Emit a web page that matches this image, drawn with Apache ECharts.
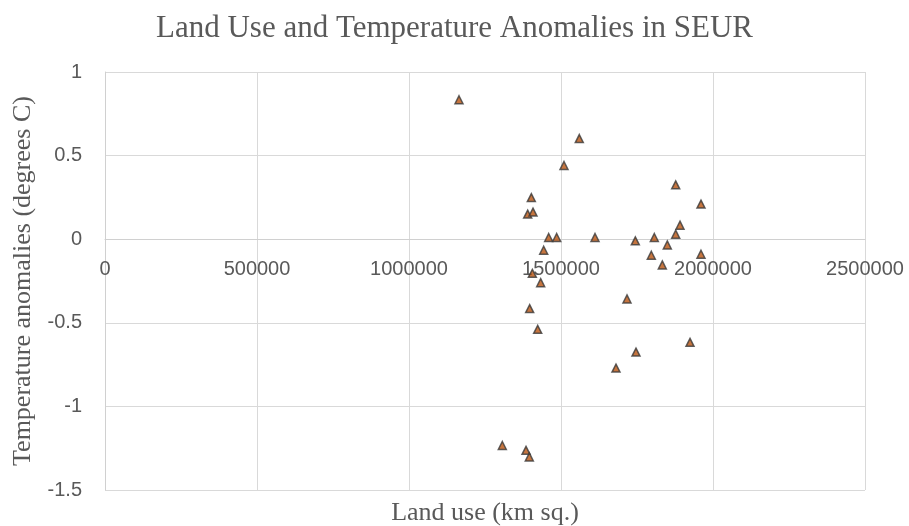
<!DOCTYPE html>
<html><head><meta charset="utf-8">
<script src="https://cdn.jsdelivr.net/npm/echarts@6/dist/echarts.min.js"></script>
<style>html,body{margin:0;padding:0;background:#fff}#c{width:909px;height:526px}</style>
</head><body><div id="c"></div>
<script>
const landUse = [1164500,1560200,1509900,1402400,1390400,1407900,1459500,1485800,1611900,1443100,
  1877300,1960500,1891500,1877300,1807000,1744500,1849700,1797100,1960500,1833300,
  1405700,1433100,1717100,1396900,1423300,1924400,1746700,1680900,1307000,1384900,1395800];
const tempAnomaly = [0.834,0.602,0.441,0.249,0.150,0.162,0.01,0.01,0.01,-0.066,
  0.325,0.21,0.084,0.03,0.01,-0.01,-0.034,-0.096,-0.09,-0.154,
  -0.204,-0.26,-0.357,-0.415,-0.539,-0.617,-0.675,-0.771,-1.234,-1.263,-1.302];
const points = landUse.map((x,i)=>[x,tempAnomaly[i]]);
const chart = echarts.init(document.getElementById('c'), null, {renderer:'canvas'});
const serif = '"Liberation Serif","Times New Roman",serif';
const sans = '"Liberation Sans",Arial,sans-serif';
const gridTop = 72, gridBottom = 36;
chart.setOption({
  animation:false,
  title:{text:'Land Use and Temperature Anomalies in SEUR', left:'center', top:8,
    textStyle:{fontFamily:serif, fontSize:31, fontWeight:'normal', color:'#595959'}},
  grid:{left:105, right:44, top:gridTop, bottom:gridBottom, containLabel:false, outerBoundsMode:'none'},
  xAxis:{type:'value', min:0, max:2500000, interval:500000, position:'bottom', offset:0,
    name:'Land use (km sq.)', nameLocation:'middle', nameGap:12,
    nameTextStyle:{fontFamily:serif, fontSize:26, color:'#595959'},
    axisLine:{show:true, onZero:false, lineStyle:{color:'#d0d0d0', width:1}},
    axisTick:{show:false},
    axisLabel:{margin:20, fontFamily:sans, fontSize:20, color:'#595959', formatter:v=>String(v)},
    splitLine:{show:true, lineStyle:{color:'#d9d9d9', width:1}}},
  yAxis:{type:'value', min:-1.5, max:1, interval:0.5,
    name:'Temperature anomalies (degrees C)', nameLocation:'middle', nameGap:69,
    nameTextStyle:{fontFamily:serif, fontSize:26, color:'#595959'},
    axisLine:{show:true, onZero:false, lineStyle:{color:'#d0d0d0', width:1}},
    axisTick:{show:false},
    axisLabel:{margin:23, fontFamily:sans, fontSize:20, color:'#595959', formatter:v=>String(v)},
    splitLine:{show:true, lineStyle:{color:'#d9d9d9', width:1}}},
  series:[{type:'scatter', data:points, symbol:'triangle', symbolSize:8,
    itemStyle:{color:'#b8530f', borderColor:'#3a3a3a', borderWidth:1.5}}]
});
// move the x axis (line + labels) up to the y = 0 position, as in the reference
const zeroY = chart.convertToPixel({yAxisIndex:0}, 0);
const minY = chart.convertToPixel({yAxisIndex:0}, -1.5);
const shift = minY - zeroY;
chart.setOption({xAxis:{offset:-shift, nameGap: shift + 10}});
</script></body></html>
